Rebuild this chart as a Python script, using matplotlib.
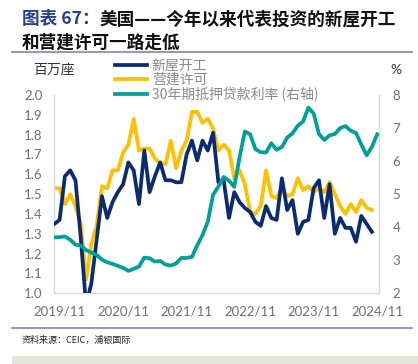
import matplotlib
matplotlib.use("Agg")
import matplotlib.pyplot as plt
import numpy as np
import pandas as pd
from matplotlib.lines import Line2D
from matplotlib.patches import Rectangle
from matplotlib.ticker import FormatStrFormatter

# ---------------- data ----------------
months = [f"{p.year}/{p.month}" for p in pd.period_range("2019-10", "2024-11", freq="M")]

# US housing starts, million units (SAAR), 2019/10 - 2024/10
starts = [1.35, 1.37, 1.59, 1.62, 1.57, 1.28, 0.94, 1.05, 1.27, 1.49,
          1.38, 1.46, 1.51, 1.55, 1.66, 1.62, 1.45, 1.72, 1.51, 1.59,
          1.66, 1.57, 1.57, 1.56, 1.56, 1.70, 1.77, 1.67, 1.77, 1.72,
          1.81, 1.56, 1.57, 1.38, 1.51, 1.46, 1.43, 1.41, 1.36, 1.34,
          1.44, 1.38, 1.37, 1.58, 1.42, 1.47, 1.30, 1.36, 1.37, 1.53,
          1.57, 1.38, 1.55, 1.30, 1.38, 1.33, 1.33, 1.26, 1.39, 1.35,
          1.31]

# US building permits, million units (SAAR), 2019/10 - 2024/10
permits = [1.53, 1.53, 1.45, 1.50, 1.44, 1.35, 1.07, 1.25, 1.34, 1.54,
           1.53, 1.62, 1.62, 1.71, 1.75, 1.88, 1.72, 1.73, 1.73, 1.68,
           1.655, 1.65, 1.77, 1.63, 1.72, 1.77, 1.915, 1.915, 1.86, 1.88,
           1.83, 1.72, 1.75, 1.72, 1.58, 1.62, 1.55, 1.41, 1.40, 1.44,
           1.62, 1.49, 1.48, 1.53, 1.49, 1.50, 1.58, 1.52, 1.54, 1.51,
           1.53, 1.51, 1.56, 1.50, 1.44, 1.40, 1.45, 1.41, 1.47, 1.43,
           1.42]

# 30-year mortgage rate, %, 2019/10 - 2024/11
mortgage = [3.69, 3.70, 3.72, 3.62, 3.47, 3.45, 3.31, 3.23, 3.16, 3.02,
            2.94, 2.89, 2.83, 2.77, 2.68, 2.74, 2.81, 3.08, 3.06, 2.96,
            2.98, 2.87, 2.84, 2.90, 3.07, 3.07, 3.10, 3.45, 3.76, 4.17,
            4.98, 5.23, 5.52, 5.41, 5.22, 6.11, 6.90, 6.81, 6.36, 6.27,
            6.26, 6.54, 6.34, 6.43, 6.71, 6.84, 7.07, 7.20, 7.62, 7.44,
            6.82, 6.64, 6.78, 6.82, 7.00, 7.06, 6.92, 6.85, 6.50, 6.18,
            6.43, 6.81]

tick_labels = ["2019/11", "2020/11", "2021/11", "2022/11", "2023/11", "2024/11"]
series_names = ["新屋开工", "营建许可", "30年期抵押贷款利率 (右轴)"]

title_prefix = "图表 67："
title_line1 = "美国——今年以来代表投资的新屋开工"
title_line2 = "和营建许可一路走低"
source_text = "资料来源：CEIC，浦银国际"

# ---------------- style ----------------
C_NAVY = "#0B2C73"
C_YELLOW = "#FFC000"
C_TEAL = "#00A099"
C_TICK = "#707070"
CJK = ["Noto Sans CJK SC", "DejaVu Sans"]
NUM = ["Lato", "DejaVu Sans"]

W, H = 418, 364
fig = plt.figure(figsize=(W / 100, H / 100), dpi=100)


def fx(px):
    return px / W


def fy(py):
    return 1 - py / H


ax = fig.add_axes([fx(54.3), fy(293.3), (379.3 - 54.3) / W, (293.3 - 95) / H])
x_sp = np.arange(len(starts))
x_m = np.arange(len(mortgage))

lw = 2.7
ax.plot(x_sp, permits, color=C_YELLOW, lw=lw, zorder=2, solid_joinstyle="round")
ax.plot(x_sp, starts, color=C_NAVY, lw=lw, zorder=3, solid_joinstyle="round")
ax.set_ylim(1.0, 2.0)
ax.set_yticks(np.arange(1.0, 2.001, 0.1))
ax.yaxis.set_major_formatter(FormatStrFormatter("%.1f"))
ax.set_xlim(0, 61.4)
ax.set_xticks([months.index(t) for t in tick_labels])
ax.set_xticklabels(tick_labels)

ax2 = ax.twinx()
ax2.plot(x_m, mortgage, color=C_TEAL, lw=lw, zorder=4, solid_joinstyle="round")
ax2.set_ylim(2, 8)
ax2.set_yticks(np.arange(2, 9, 1))

for a in (ax, ax2):
    for s in a.spines.values():
        s.set_visible(False)
for k in ("left", "bottom", "right"):
    ax.spines[k].set_visible(True)
    ax.spines[k].set_color("#D9D9D9")
    ax.spines[k].set_linewidth(1.0)

ax.tick_params(axis="y", length=0, pad=8.5, labelsize=9.5, labelcolor=C_TICK)
ax.tick_params(axis="x", length=0, pad=8.5, labelsize=9.5, labelcolor=C_TICK)
ax2.tick_params(axis="y", length=0, pad=9.5, labelsize=9.5, labelcolor=C_TICK)
for lab in ax.get_xticklabels() + ax.get_yticklabels() + ax2.get_yticklabels():
    lab.set_family(NUM)

# legend
handles = [Line2D([], [], color=C_NAVY, lw=lw),
           Line2D([], [], color=C_YELLOW, lw=lw),
           Line2D([], [], color=C_TEAL, lw=lw)]
leg = fig.legend(handles, series_names, loc="upper left",
                 bbox_to_anchor=(fx(115), fy(58.5)), bbox_transform=fig.transFigure,
                 frameon=False, handlelength=2.3, handletextpad=0.35,
                 labelspacing=0.0, borderpad=0, borderaxespad=0,
                 prop={"family": CJK, "size": 10})
for t in leg.get_texts():
    t.set_color("#8A8A8A")

# unit labels
fig.text(fx(33), fy(70), "百万座", family=CJK, fontsize=10, color="#333333", va="center", ha="left")
fig.text(fx(396), fy(70), "%", family=NUM, fontsize=10, color="#333333", va="center", ha="center")

# title
TS = 12.7
t1 = fig.text(fx(22), fy(19.5), title_prefix, family=CJK, fontsize=TS, fontweight="bold",
              color="#2B3D8F", va="center", ha="left")
fig.canvas.draw()
bb = t1.get_window_extent(renderer=fig.canvas.get_renderer())
fig.text(bb.x1 / W, fy(19.5), title_line1, family=CJK, fontsize=TS, fontweight="bold",
         color="#111111", va="center", ha="left")
fig.text(fx(22), fy(42.5), title_line2, family=CJK, fontsize=TS, fontweight="bold",
         color="#111111", va="center", ha="left")

# separator lines
fig.add_artist(Line2D([fx(12), fx(412)], [fy(52.3), fy(52.3)], color="#7F74B0", lw=1.1))
fig.add_artist(Line2D([fx(12), fx(412)], [fy(328), fy(328)], color="#7F74B0", lw=1.1))

# source
fig.text(fx(22), fy(340.5), source_text, family=CJK, fontsize=6.5, color="#222222",
         va="center", ha="left")

# bottom band
fig.add_artist(Rectangle((fx(12), 0), 1 - fx(12), fy(356), transform=fig.transFigure,
                         facecolor="#E4E7DA", edgecolor="none"))

fig.savefig("out.png", dpi=100)
